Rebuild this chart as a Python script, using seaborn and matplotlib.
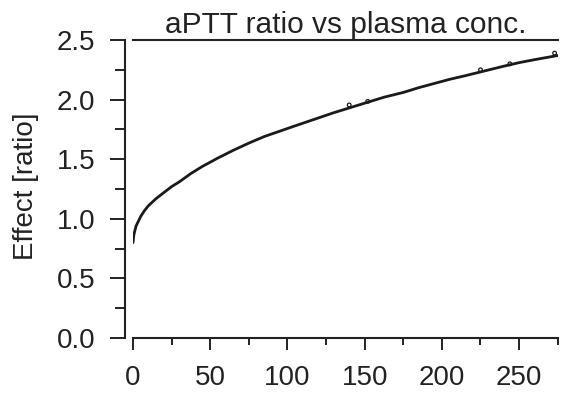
import matplotlib
matplotlib.use("Agg")
import matplotlib.pyplot as plt
import seaborn as sns
import pandas as pd
from matplotlib.ticker import MultipleLocator

# Data
conc = [0, 0.5, 1, 2, 3.5, 5, 7.5, 10, 15, 20, 25, 30, 37.5, 45, 55, 65, 75, 85, 95,
        105, 117.5, 130, 140, 150, 162.5, 175, 185, 195, 205, 215, 227.5, 240, 250,
        260, 275]
effect = [0.80, 0.86, 0.89, 0.94, 0.98, 1.02, 1.07, 1.11, 1.17, 1.22, 1.27, 1.31,
          1.38, 1.44, 1.51, 1.575, 1.635, 1.69, 1.735, 1.78, 1.835, 1.89, 1.93,
          1.97, 2.02, 2.06, 2.10, 2.135, 2.17, 2.20, 2.24, 2.28, 2.31, 2.335, 2.37]
obs_conc = [140, 152, 225, 244, 273]
obs_effect = [1.955, 1.985, 2.25, 2.30, 2.39]

xticks = [0, 50, 100, 150, 200, 250]
yticks = [0.0, 0.5, 1.0, 1.5, 2.0, 2.5]
ytick_labels = ["0.0", "0.5", "1.0", "1.5", "2.0", "2.5"]
title = "aPTT ratio vs plasma conc."
ylabel = "Effect [ratio]"

sns.set_style("ticks")
plt.rcParams["font.family"] = ["Liberation Sans", "DejaVu Sans"]

ink = "#222222"
fig = plt.figure(figsize=(5.62, 3.94), dpi=100)
ax = fig.add_axes([133 / 562, 56 / 394, 424.7 / 562, 298 / 394])

df = pd.DataFrame({"conc": conc, "effect": effect})
obs = pd.DataFrame({"conc": obs_conc, "effect": obs_effect})
sns.lineplot(data=df, x="conc", y="effect", ax=ax, color="#1a1a1a", linewidth=2.0)
sns.scatterplot(data=obs, x="conc", y="effect", ax=ax, marker="o", s=7,
                facecolor="none", edgecolor="#1a1a1a", linewidth=0.9, zorder=3)

ax.set_xlim(0, 275)
ax.set_ylim(0, 2.5)
ax.set_xticks(xticks)
ax.set_yticks(yticks)
ax.set_yticklabels(ytick_labels)
ax.xaxis.set_minor_locator(MultipleLocator(25))
ax.yaxis.set_minor_locator(MultipleLocator(0.25))
ax.set_xlabel("")
ax.set_ylabel("")

for s in ["left", "bottom", "top"]:
    ax.spines[s].set_linewidth(1.5)
    ax.spines[s].set_color(ink)
ax.spines["right"].set_visible(False)
ax.spines["left"].set_position(("outward", 5.8))
ax.spines["left"].set_bounds(0, 2.5)

ax.tick_params(axis="y", which="major", length=10.5, width=1.4, color=ink,
               labelsize=20, labelcolor=ink, pad=11)
ax.tick_params(axis="y", which="minor", length=7, width=1.4, color=ink)
ax.tick_params(axis="x", which="major", length=8.6, width=1.4, color=ink,
               labelsize=20, labelcolor=ink, pad=11)
ax.tick_params(axis="x", which="minor", length=5, width=1.4, color=ink)
ax.tick_params(top=False, which="both")

ax.set_title(title, fontsize=21.5, color=ink, pad=5)
fig.text(26 / 562, 1 - 186 / 394, ylabel, rotation=90, ha="center", va="center",
         fontsize=20, color=ink)

fig.savefig("out.png", dpi=100)
